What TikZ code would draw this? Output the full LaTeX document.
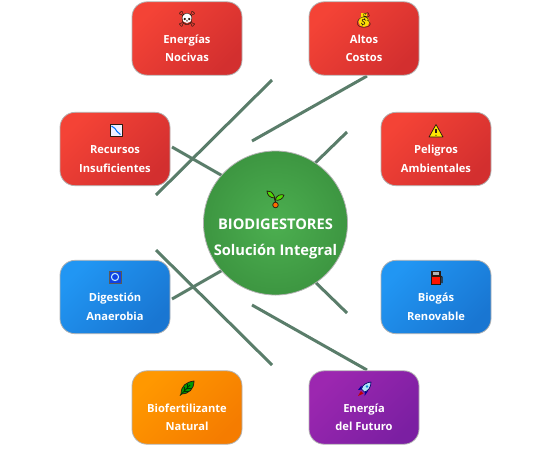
\documentclass[tikz,border=0pt]{standalone}
\usepackage{fontspec}
\setmainfont{Open Sans}
\newfontfamily\emojifont{Noto Emoji}
\definecolor{linkc}{HTML}{5A7D6A}
\definecolor{redA}{HTML}{F44336}\definecolor{redB}{HTML}{D32F2F}
\definecolor{bluA}{HTML}{2196F3}\definecolor{bluB}{HTML}{1976D2}
\definecolor{oraA}{HTML}{FF9800}\definecolor{oraB}{HTML}{F57C00}
\definecolor{purA}{HTML}{9C27B0}\definecolor{purB}{HTML}{7B1FA2}
\definecolor{hubA}{HTML}{4CAF50}\definecolor{hubB}{HTML}{2E7D32}
\definecolor{ink}{HTML}{2A1A10}
\pgfdeclareradialshading{hubshade}{\pgfpoint{0bp}{0bp}}{color(0bp)=(hubA); color(50bp)=(hubB)}
\tikzset{
  link/.style={draw=linkc,line width=2.25pt},
  card/.style={draw=black!30,line width=0.6pt,rounded corners=11.25pt,minimum width=82.5pt,minimum height=55pt,
    inner sep=0pt,align=center,text=white,font=\bfseries\fontsize{8.35}{13.9}\selectfont,shading angle=45},
  redcard/.style={top color=redA,bottom color=redB,card},
  blucard/.style={top color=bluA,bottom color=bluB,card},
  oracard/.style={top color=oraA,bottom color=oraB,card},
  purcard/.style={top color=purA,bottom color=purB,card},
  hub/.style={circle,draw=black!30,line width=0.6pt,minimum size=108pt,inner sep=0pt,shading=hubshade,align=center,
    text=white,font=\bfseries\fontsize{11}{19.5}\selectfont},
  glyph/.style={inner sep=0pt,font=\emojifont\fontsize{11}{11}\selectfont,text=ink},
  outl/.style={draw=ink,line width=0.55pt,line join=round},
}
\newcommand{\cardtext}[2]{\rule{0pt}{7.5pt}\\#1\\#2}
\begin{document}
\begin{tikzpicture}[x=0.75pt,y=-0.75pt]
\useasboundingbox (0,0) rectangle (541,461);
% free ends of the connectors
\coordinate (a1) at (272,80);  \coordinate (a2) at (156,195);
\coordinate (b1) at (367,76);  \coordinate (b2) at (252,141);
\coordinate (c1) at (347,132); \coordinate (c2) at (310,168);
\coordinate (d1) at (172,147); \coordinate (d2) at (228,179);
\coordinate (e1) at (172,299); \coordinate (e2) at (228,267);
\coordinate (f1) at (156,250); \coordinate (f2) at (272,365);
\coordinate (g1) at (252,305); \coordinate (g2) at (367,370);
\coordinate (h1) at (310,277); \coordinate (h2) at (347,313);
\draw[link] (a1) -- (a2);
\draw[link] (b1) -- (b2);
\draw[link] (c1) -- (c2);
\draw[link] (d1) -- (d2);
\draw[link] (e1) -- (e2);
\draw[link] (f1) -- (f2);
\draw[link] (g1) -- (g2);
\draw[link] (h1) -- (h2);
% hub
\node[hub] (core) at (275.5,223) {\rule{0pt}{13.5pt}\\[-1pt]BIODIGESTORES\\Solución Integral};
% cards
\node[redcard] (energias) at (187,38.5) {\cardtext{Energías}{Nocivas}};
\node[redcard] (altos) at (364,38.5) {\cardtext{Altos}{Costos}};
\node[redcard] (recursos) at (115,149) {\cardtext{Recursos}{Insuficientes}};
\node[redcard] (peligros) at (436,149) {\cardtext{Peligros}{Ambientales}};
\node[blucard] (digestion) at (115,297) {\cardtext{Digestión}{Anaerobia}};
\node[blucard] (biogas) at (436,297) {\cardtext{Biogás}{Renovable}};
\node[oracard] (biofert) at (187,407.5) {\cardtext{Biofertilizante}{Natural}};
\node[purcard] (futuro) at (364,407.5) {\cardtext{Energía}{del Futuro}};
% skull
\fill[white] (187,18) circle (5);
\node[glyph,font=\emojifont\fontsize{11.5}{11.5}\selectfont] at (187,19.5) {☠};
% money bag
\fill[yellow!80!orange] (364,21.5) circle (5.6);
\fill[yellow!80!orange] (361,13) rectangle (367,17);
\node[glyph,font=\emojifont\fontsize{11}{11}\selectfont] at (364,20) {💰};
% chart
\fill[blue!6!white] (110,124) rectangle (122,136);
\draw[outl] (110,124) rectangle (122,136);
\draw[blue!55!cyan,line width=0.8pt] (111.5,126) -- (115,128.5) -- (117,131.5) -- (120.5,134.5);
% warning
\path[fill=yellow!90!orange,outl] (436,124.5) -- (443,137) -- (429,137) -- cycle;
\draw[ink,line width=0.8pt] (436,129) -- (436,133.3);
\fill[ink] (436,135.2) circle (0.6);
% cycle
\path[fill=blue!45!bluB,draw=black!65,line width=0.5pt] (109,271) rectangle (121,283);
\draw[white!75!cyan,line width=0.8pt] (115,277) circle (3.6);
% pump
\fill[ink] (431,271) rectangle (440.5,285);
\fill[red!85!orange] (432,276.5) rectangle (439.5,284);
\fill[white!70!black] (432.5,272.2) rectangle (439,275.2);
\draw[ink,line width=0.8pt] (440.5,276) -- (442,277) -- (442,283);
% herb
\path[fill=green!60!black,outl] (181,394) .. controls (181,386) and (186,382) .. (194,381) .. controls (194,389) and (189,394) .. (181,394) -- cycle;
\draw[green!20!black,line width=0.6pt] (180,395.5) -- (190,385);
\draw[green!20!black,line width=0.5pt] (184,391) -- (184,386.5) (187,388) -- (187,384) (184,391) -- (189,391) (187,388) -- (192,388);
% rocket
\path[fill=white!70!cyan,draw=blue!40!black,line width=0.5pt,line join=round] (371,382) .. controls (366,382.5) and (362.5,385) .. (361.5,389) -- (364.5,392) .. controls (368.5,391) and (371,387) .. (371,382) -- cycle;
\fill[cyan!70!blue] (367,386.5) circle (1.4);
\fill[blue!60!black] (361.5,385.5) -- (358,390) -- (361.5,389.5) -- cycle;
\fill[blue!60!black] (365,392) -- (364.5,396) -- (368,391) -- cycle;
\fill[red!75!black] (361,391) -- (358,396) -- (363.5,393.5) -- cycle;
% sprout
\draw[ink,line width=0.8pt] (275.5,205) .. controls (275.5,201) and (275,199) .. (274,197);
\path[fill=orange!85!red,outl] (275.5,205) circle (2.8);
\path[fill=green!65!yellow!85!black,outl] (275,198) .. controls (272,191) and (270,191) .. (267,191) .. controls (267,195) and (270,198) .. (275,198) -- cycle;
\path[fill=green!65!yellow!85!black,outl] (275,200) .. controls (277,195) and (280,194) .. (284,195) .. controls (283,199) and (279,201) .. (275,200) -- cycle;
\end{tikzpicture}
\end{document}
